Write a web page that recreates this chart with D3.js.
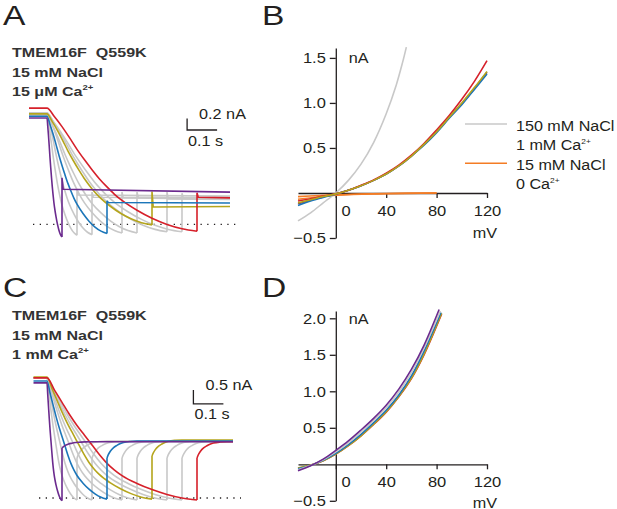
<!DOCTYPE html>
<html>
<head>
<meta charset="utf-8">
<script src="https://cdn.jsdelivr.net/npm/d3@7"></script>
<style>
  body { margin: 0; background: #fff; }
  svg { display: block; font-family: "Liberation Sans", Arial, Helvetica, sans-serif; }
  text { white-space: pre; }
</style>
</head>
<body>
<svg id="fig" width="617" height="509"></svg>
<script>
// ---- sweep protocol: ramp durations (ms), fastest first ----
const rampDurations = [50, 100, 150, 200, 250, 300, 350, 400, 450, 500];
const sweepKind = ["purple", "gray", "gray", "blue", "gray", "gray", "yellow", "gray", "gray", "red"];

// normalised ramp decay (fraction of ramp elapsed, fraction of total drop)
const rampShapeA = [[0, 0], [0.05, 0.07], [0.1, 0.15], [0.15, 0.24], [0.2, 0.335], [0.25, 0.42], [0.3, 0.5],
  [0.35, 0.575], [0.4, 0.64], [0.45, 0.7], [0.5, 0.75], [0.6, 0.83], [0.7, 0.895], [0.8, 0.945],
  [0.9, 0.98], [1, 1]];
const rampShapeC = [[0, 0], [0.05, 0.1], [0.1, 0.2], [0.15, 0.3], [0.2, 0.39], [0.25, 0.47], [0.3, 0.55],
  [0.35, 0.63], [0.4, 0.7], [0.45, 0.755], [0.5, 0.8], [0.6, 0.865], [0.7, 0.915], [0.8, 0.955],
  [0.9, 0.984], [1, 1]];
// tail relaxation after the step in C (ms after step, fraction of the jump still left)
const tailShapeC = [[0, 1], [4, 0.82], [11, 0.6], [22, 0.38], [33, 0.25], [45, 0.14], [55, 0.08], [77, 0.02], [100, 0]];

// panel A sweep levels (nA)
const startA = [1.85, 1.90, 1.92, 1.88, 1.94, 1.90, 1.92, 1.94, 1.92, 2.02];
const bottomA = [-0.22, -0.19, -0.18, -0.16, -0.15, -0.15, -0.01, -0.13, -0.13, -0.12];
const spikeA = [0.81, 0.60, 0.56, 0.41, 0.56, 0.56, 0.57, 0.56, 0.54, 0.55];
const plateauA = [0.61, 0.51, 0.47, 0.38, 0.46, 0.47, 0.30, 0.44, 0.46, 0.47];
const plateauEndA = [0.56, 0.49, 0.46, 0.37, 0.44, 0.45, 0.31, 0.43, 0.45, 0.46];

// panel C sweep levels (nA)
const startC = [4.11, 4.29, 4.29, 4.18, 4.29, 4.29, 4.32, 4.29, 4.29, 4.29];
const bottomC = [-0.10, -0.07, -0.07, -0.04, -0.07, -0.07, -0.04, -0.07, -0.07, -0.07];
const jumpC = [1.79, 1.43, 1.43, 1.43, 1.43, 1.43, 1.50, 1.43, 1.43, 1.43];
const plateauC = [2.01, 2.03, 2.02, 2.03, 2.02, 2.03, 2.07, 2.03, 2.02, 2.01];

// ---- I-V curves, panel B (mV, nA) ----
const ivB150 = [[-30, -0.31], [-20, -0.22], [-10, -0.11], [0, 0], [10, 0.14], [20, 0.32], [30, 0.56],
  [40, 0.88], [48, 1.2], [53, 1.45], [56, 1.62]];
const ivB0Ca = [[-30, -0.04], [0, -0.02], [40, -0.005], [80, 0.0]];
const ivB0CaB = [[-30, -0.07], [0, -0.025], [40, -0.008], [80, 0.0]];
const ivBPurple = [[-30, -0.12], [-20, -0.08], [-10, -0.045], [0, -0.01], [10, 0.03], [20, 0.08], [30, 0.14],
  [40, 0.21], [50, 0.3], [60, 0.41], [70, 0.54], [80, 0.68], [90, 0.84], [100, 0.99], [110, 1.16], [120, 1.34]];
const ivBYellow = [[-30, -0.11], [-20, -0.075], [-10, -0.04], [0, -0.01], [10, 0.03], [20, 0.08], [30, 0.14],
  [40, 0.21], [50, 0.3], [60, 0.41], [70, 0.54], [80, 0.68], [90, 0.84], [100, 1.0], [110, 1.17], [120, 1.35]];
const ivBBlue = [[-30, -0.14], [-20, -0.09], [-10, -0.05], [0, -0.015], [10, 0.03], [20, 0.08], [30, 0.14],
  [40, 0.21], [50, 0.3], [60, 0.41], [70, 0.53], [80, 0.67], [90, 0.83], [100, 0.98], [110, 1.15], [120, 1.32]];
const ivBRed = [[-30, -0.09], [-20, -0.065], [-10, -0.035], [0, -0.01], [10, 0.03], [20, 0.085], [30, 0.145],
  [40, 0.22], [50, 0.31], [60, 0.42], [70, 0.55], [80, 0.7], [90, 0.86], [100, 1.04], [110, 1.24], [120, 1.47]];

// ---- I-V curves, panel D (mV, nA) ----
const ivDPurple = [[-30, -0.09], [-20, -0.02], [-10, 0.07], [0, 0.19], [10, 0.32], [20, 0.47], [30, 0.63],
  [40, 0.81], [50, 1.03], [60, 1.3], [70, 1.63], [82, 2.12]];
const ivDGray = [[-30, -0.075], [-20, -0.018], [-10, 0.062], [0, 0.17], [10, 0.295], [20, 0.44], [30, 0.6],
  [40, 0.775], [50, 0.99], [60, 1.255], [70, 1.59], [83, 2.1]];
const ivDBlue = [[-30, -0.06], [-20, -0.015], [-10, 0.055], [0, 0.15], [10, 0.27], [20, 0.41], [30, 0.57],
  [40, 0.74], [50, 0.95], [60, 1.21], [70, 1.55], [83.5, 2.08]];
const ivDYellow = [[-30, -0.05], [-20, -0.01], [-10, 0.05], [0, 0.14], [10, 0.255], [20, 0.39], [30, 0.55],
  [40, 0.72], [50, 0.93], [60, 1.18], [70, 1.51], [84, 2.07]];
const ivDRed = [[-30, -0.055], [-20, -0.012], [-10, 0.05], [0, 0.14], [10, 0.255], [20, 0.39], [30, 0.545],
  [40, 0.715], [50, 0.925], [60, 1.175], [70, 1.5], [84, 2.06]];

const xTicks = [0, 40, 80, 120];
const yTicksB = [-0.5, 0.5, 1.0, 1.5];
const yTicksD = [-0.5, 0.5, 1.0, 1.5, 2.0];

const colors = {
  purple: "#6b2a8e",
  gray: "#c8c8c8",
  blue: "#1c76b9",
  yellow: "#b5a51c",
  red: "#d6202a",
  orange: "#f47c24",
};
const ink = "#231f20";

const svg = d3.select("#fig");

const addText = (parent, x, y, str, opts = {}) => {
  const t = parent
    .append("text")
    .attr("transform", `translate(${x},${y}) scale(${opts.sx || 1},1)`)
    .attr("font-size", opts.size || 15)
    .attr("font-weight", opts.weight || "normal")
    .attr("text-anchor", opts.anchor || "start")
    .attr("fill", opts.fill || ink);
  t.append("tspan").text(str);
  if (opts.sup) {
    t.append("tspan").attr("font-size", 8).attr("dy", -6).text(opts.sup);
  }
  return t;
};

// ---- panel letters ----
addText(svg, 3, 25, "A", { size: 28, sx: 1.2 });
addText(svg, 262, 25, "B", { size: 28, sx: 1.2 });
addText(svg, 3, 297, "C", { size: 28, sx: 1.2 });
addText(svg, 262, 297, "D", { size: 28, sx: 1.2 });

// ---- current sweep panels ----
const drawSweeps = (cfg) => {
  const g = svg.append("g");
  const x = d3.scaleLinear().domain([0, 100]).range([cfg.x0, cfg.x0 + 30]);
  const y = d3.scaleLinear().domain([0, cfg.barNA]).range([cfg.zeroY, cfg.zeroY - cfg.barPx]);
  const smooth = d3.line().x((d) => x(d[0])).y((d) => y(d[1])).curve(d3.curveMonotoneX);
  const straight = d3.line().x((d) => x(d[0])).y((d) => y(d[1]));

  // zero-current reference
  g.append("line")
    .attr("x1", cfg.dotFrom)
    .attr("x2", cfg.dotTo)
    .attr("y1", y(0))
    .attr("y2", y(0))
    .attr("stroke", ink)
    .attr("stroke-width", 1.3)
    .attr("stroke-dasharray", "1.3,5.4");

  const rank = { gray: 0, yellow: 1, red: 2, blue: 3, purple: 4 };
  const order = d3.range(rampDurations.length).sort((a, b) => rank[sweepKind[a]] - rank[sweepKind[b]]);

  order.forEach((i) => {
    const dur = rampDurations[i];
    const s = cfg.start[i];
    const b = cfg.bottom[i];
    const ramp = [[cfg.tHold, s]].concat(
      cfg.shape.map(([p, f]) => [p * dur, s + (b - s) * f])
    );
    let d = smooth(ramp) + straight([[dur, b], [dur, cfg.jump[i]]]);
    if (cfg.tail) {
      const tail = cfg.tail
        .map(([dt, fr]) => [dur + dt, cfg.plateau[i] + (cfg.jump[i] - cfg.plateau[i]) * fr])
        .concat([[cfg.tEnd, cfg.plateau[i]]]);
      d += smooth(tail);
    } else {
      d += straight([[dur, cfg.jump[i]], [dur + 4, cfg.plateau[i]], [cfg.tEnd, cfg.plateauEnd[i]]]);
    }
    g.append("path")
      .attr("d", d)
      .attr("fill", "none")
      .attr("stroke", colors[sweepKind[i]])
      .attr("stroke-width", 1.6)
      .attr("stroke-linejoin", "round");
  });

  // scale bar
  g.append("path")
    .attr("d", `M${x(cfg.barT)},${y(cfg.barY + cfg.barNA)}V${y(cfg.barY)}H${x(cfg.barT + 100)}`)
    .attr("fill", "none")
    .attr("stroke", ink)
    .attr("stroke-width", 1.3);
  addText(g, x(cfg.barT) + 12, y(cfg.barY + cfg.barNA) + 0.5, `${cfg.barNA} nA`, { size: 15, sx: 1.08 });
  addText(g, x(cfg.barT) + 1, y(cfg.barY) + 15.5, "0.1 s", { size: 15, sx: 1.08 });

  // condition labels
  const lab = svg.append("g");
  cfg.labels.forEach((l, k) => {
    addText(lab, 12, cfg.labelY + k * 19.5, l[0], { size: 13.5, weight: "bold", sx: 1.19, fill: "#333", sup: l[1] });
  });
};

drawSweeps({
  x0: 47, tHold: -60, tEnd: 610,
  zeroY: 224.3, barNA: 0.2, barPx: 11.5,
  start: startA, bottom: bottomA, jump: spikeA, plateau: plateauA, plateauEnd: plateauEndA,
  shape: rampShapeA,
  dotFrom: 33, dotTo: 237,
  barT: 467, barY: 1.64,
  labels: [["TMEM16F  Q559K"], ["15 mM NaCl"], ["15 \u03bcM Ca", "2+"]],
  labelY: 57.3,
});

drawSweeps({
  x0: 47, tHold: -45, tEnd: 620,
  zeroY: 498, barNA: 0.5, barPx: 14,
  start: startC, bottom: bottomC, jump: jumpC, plateau: plateauC,
  shape: rampShapeC, tail: tailShapeC,
  dotFrom: 39, dotTo: 241,
  barT: 488, barY: 3.36,
  labels: [["TMEM16F  Q559K"], ["15 mM NaCl"], ["1 mM Ca", "2+"]],
  labelY: 320,
});

// ---- I-V panels ----
const drawIV = (cfg) => {
  const g = svg.append("g");
  const x = d3.scaleLinear().domain([-30, 120]).range([298, 487]);
  const y = d3.scaleLinear().domain(cfg.yDomain).range(cfg.yRange);

  const xAxis = g.append("g")
    .attr("transform", `translate(0,${y(0)})`)
    .call(d3.axisBottom(x).tickValues(xTicks).tickSize(5).tickSizeOuter(0).tickPadding(7).tickFormat(d3.format("d")));
  const yAxis = g.append("g")
    .attr("transform", `translate(${x(0)},0)`)
    .call(d3.axisLeft(y).tickValues(cfg.yTicks).tickSize(6).tickSizeOuter(0).tickPadding(4).tickFormat(d3.format(".1f")));

  [xAxis, yAxis].forEach((ax) => {
    ax.select(".domain").attr("stroke", ink).attr("stroke-width", 1.3);
    ax.selectAll(".tick line").attr("stroke", ink).attr("stroke-width", 1.3);
    ax.selectAll(".tick text")
      .attr("font-size", 15)
      .attr("font-family", "Liberation Sans, Arial, sans-serif")
      .attr("fill", ink)
      .attr("transform", "scale(1.1,1)");
  });
  yAxis.selectAll(".tick text").attr("x", -10 / 1.1);
  xAxis.selectAll(".tick").filter((d) => d === 0).select("text").attr("x", 9);

  const line = d3.line().x((d) => x(d[0])).y((d) => y(d[1])).curve(d3.curveCatmullRom.alpha(0.5));
  cfg.curves.forEach(([data, c]) => {
    g.append("path")
      .attr("d", line(data))
      .attr("fill", "none")
      .attr("stroke", colors[c])
      .attr("stroke-width", 1.6);
  });

  addText(g, x(0) + 13, y(cfg.yTicks[cfg.yTicks.length - 1]) + 5.5, "nA", { size: 15, sx: 1.08 });
  addText(g, x(120) - 2, Math.min(y(0) + 45, 507.5), "mV", { size: 15, sx: 1.08, anchor: "middle" });
};

drawIV({
  yDomain: [-0.5, 1.61], yRange: [238, 48],
  yTicks: yTicksB,
  curves: [[ivB0CaB, "orange"], [ivB0Ca, "orange"], [ivB150, "gray"], [ivBPurple, "purple"], [ivBBlue, "blue"],
    [ivBRed, "red"], [ivBYellow, "yellow"]],
});

drawIV({
  yDomain: [-0.5, 2.1], yRange: [500.8, 311],
  yTicks: yTicksD,
  curves: [[ivDRed, "red"], [ivDYellow, "yellow"], [ivDBlue, "blue"], [ivDGray, "gray"], [ivDPurple, "purple"]],
});

// ---- legend for B ----
const legend = svg.append("g");
const legendRows = [
  ["gray", "150 mM NaCl", "1 mM Ca", 124],
  ["orange", "15 mM NaCl", "0 Ca", 163.3],
];
legendRows.forEach(([c, l1, l2, ly]) => {
  legend.append("line")
    .attr("x1", 465).attr("x2", 507).attr("y1", ly).attr("y2", ly)
    .attr("stroke", colors[c]).attr("stroke-width", 1.6);
  addText(legend, 516, ly + 6.7, l1, { size: 15.5, sx: 1.04 });
  addText(legend, 516, ly + 26, l2, { size: 15.5, sx: 1.04, sup: "2+" });
});
</script>
</body>
</html>
